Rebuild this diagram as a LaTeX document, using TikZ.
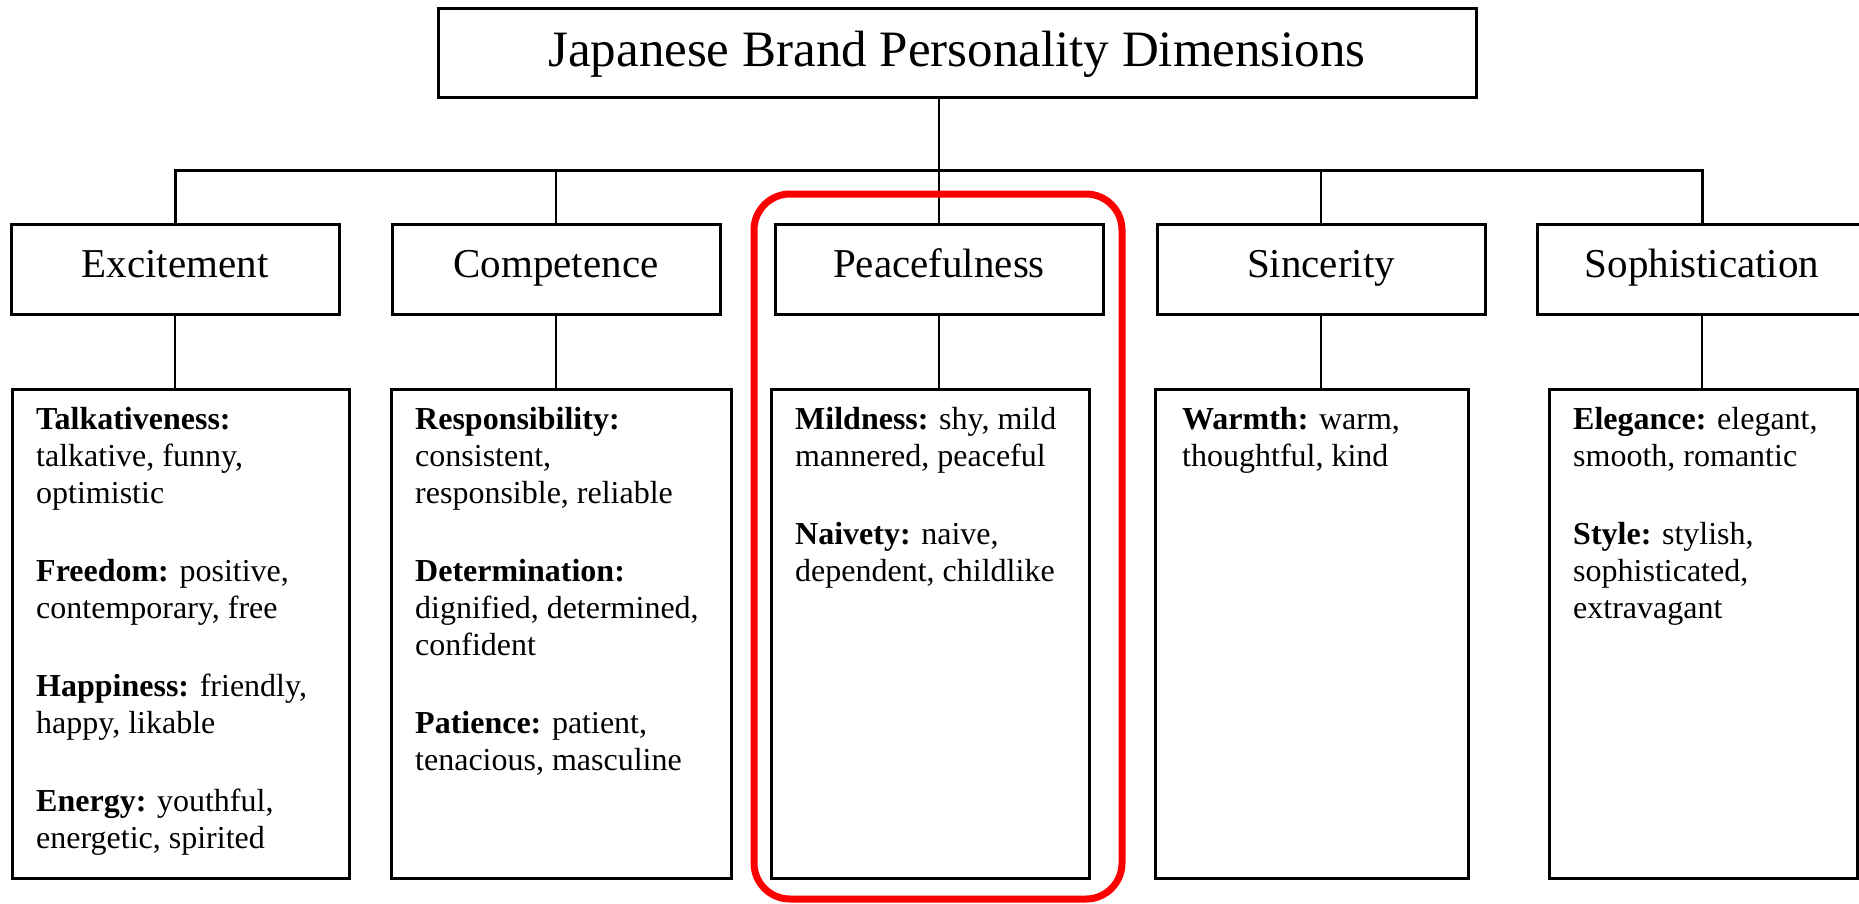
\documentclass[tikz,border=0pt]{standalone}
\usepackage{fontspec}
\setmainfont{Liberation Serif}
\begin{document}
\begin{tikzpicture}[x=1pt,y=-1pt,
  boxline/.style={draw=black, line width=3pt},
  titlebox/.style={boxline, rectangle, minimum width=1038pt, minimum height=89pt, inner sep=0pt,
     font=\fontsize{51pt}{56pt}\selectfont, text height=38pt, text depth=10pt},
  catbox/.style={boxline, rectangle, minimum width=328pt, minimum height=90pt, inner sep=0pt,
     font=\fontsize{41pt}{45pt}\selectfont, text height=28pt, text depth=11pt},
  detbox/.style={boxline},
  conn/.style={draw=black, line width=2pt},
  bustyle/.style={draw=black, line width=3pt},
  dettext/.style={anchor=base west, inner sep=0pt},
  hilite/.style={draw=red, line width=7pt, rounded corners=36pt}
]
\newcommand{\dtxt}[2]{\parbox[t]{#1}{\fontsize{32pt}{37pt}\selectfont\setlength{\parindent}{0pt}\setlength{\parskip}{41pt}#2}}
\useasboundingbox (0,0) rectangle (1859,903);
\fill[white] (0,0) rectangle (1859,903);

% title
\node[titlebox] (title) at (957,52.5) {Japanese Brand Personality Dimensions};

% categories
\node[catbox] (exc) at (175,269) {Excitement};
\node[catbox] (com) at (556,269) {Competence};
\node[catbox] (pea) at (939,269) {Peacefulness};
\node[catbox] (sin) at (1321,269) {Sincerity};
\node[catbox, minimum width=330pt] (sop) at (1702,269) {Sophistication};

% detail boxes
\node[detbox, minimum width=337pt, minimum height=489pt, inner sep=0pt] (dexc) at (180.5,633.5) {};
\node[detbox, minimum width=340pt, minimum height=489pt, inner sep=0pt] (dcom) at (561,633.5) {};
\node[detbox, minimum width=318pt, minimum height=489pt, inner sep=0pt] (dpea) at (930,633.5) {};
\node[detbox, minimum width=313pt, minimum height=489pt, inner sep=0pt] (dsin) at (1311.5,633.5) {};
\node[detbox, minimum width=308pt, minimum height=489pt, inner sep=0pt] (dsop) at (1703,633.5) {};

% connectors
\coordinate (bus) at (175,170);
\draw[conn] (title.south -| pea.north) -- (pea.north |- bus);
\draw[bustyle] (exc.north) -- (exc.north |- bus) -| (sop.north);
\draw[conn] (com.north) -- (com.north |- bus);
\draw[conn] (pea.north) -- (pea.north |- bus);
\draw[conn] (sin.north) -- (sin.north |- bus);
\foreach \c/\d in {exc/dexc, com/dcom, pea/dpea, sin/dsin, sop/dsop}
  \draw[conn] (\c.south) -- (\c.south |- \d.north);

% detail texts
\node[dettext] (texc) at (36,429) {\dtxt{305pt}{%
\textbf{Talkativeness:}\\ talkative, funny,\\ optimistic\par
\textbf{Freedom:} positive,\\ contemporary, free\par
\textbf{Happiness:} friendly,\\ happy, likable\par
\textbf{Energy:} youthful,\\ energetic, spirited}};
\node[dettext] (tcom) at (415,429) {\dtxt{310pt}{%
\textbf{Responsibility:}\\ consistent,\\ responsible, reliable\par
\textbf{Determination:}\\ dignified, determined,\\ confident\par
\textbf{Patience:} patient,\\ tenacious, masculine}};
\node[dettext] (tpea) at (795,429) {\dtxt{290pt}{%
\textbf{Mildness:} shy, mild\\ mannered, peaceful\par
\textbf{Naivety:} naive,\\ dependent, childlike}};
\node[dettext] (tsin) at (1182,429) {\dtxt{280pt}{%
\textbf{Warmth:} warm,\\ thoughtful, kind}};
\node[dettext] (tsop) at (1573,429) {\dtxt{280pt}{%
\textbf{Elegance:} elegant,\\ smooth, romantic\par
\textbf{Style:} stylish,\\ sophisticated,\\ extravagant}};

% highlight
\draw[hilite] (754,194) rectangle (1122,899);
\end{tikzpicture}
\end{document}
